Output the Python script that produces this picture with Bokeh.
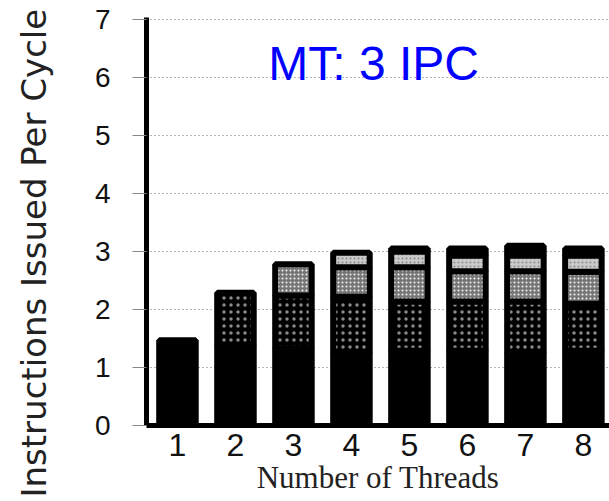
import numpy as np
from bokeh.plotting import figure
from bokeh.layouts import row
from bokeh.models import ColumnDataSource, FixedTicker, Label, Range1d, Title
from bokeh.embed import file_html
from bokeh.resources import INLINE

# ---------------- data ----------------
threads = [1, 2, 3, 4, 5, 6, 7, 8]
x_tick_labels = ["1", "2", "3", "4", "5", "6", "7", "8"]
y_ticks = [0, 1, 2, 3, 4, 5, 6, 7]

# IPC contribution of each stacked segment (bottom to top)
seg_thread1 = [1.47, 1.38, 1.33, 1.26, 1.29, 1.29, 1.26, 1.29]
seg_thread2 = [0.00, 0.91, 0.91, 0.96, 0.85, 0.85, 0.88, 0.81]
seg_thread3 = [0.00, 0.00, 0.54, 0.51, 0.59, 0.52, 0.52, 0.55]
seg_thread4 = [0.00, 0.00, 0.00, 0.25, 0.27, 0.27, 0.27, 0.28]
seg_others  = [0.00, 0.00, 0.00, 0.00, 0.05, 0.12, 0.17, 0.12]

y_label = "Instructions Issued Per Cycle"
x_label = "Number of Threads"
note_text = "MT: 3 IPC"

TOTAL_W, TOTAL_H = 609, 501
LEFT_W = 80

# ---------------- left strip holding the vertical axis title ----------------
pl = figure(width=LEFT_W, height=TOTAL_H, output_backend="svg", toolbar_location=None,
            x_range=Range1d(0, 1), y_range=Range1d(0, 1),
            min_border_left=0, min_border_right=0, min_border_top=17,
            min_border_bottom=76)
pl.axis.visible = False
pl.grid.visible = False
pl.outline_line_color = None
pl.add_layout(Title(text=y_label, align="left", vertical_align="top", offset=-72,
                    standoff=26, text_font="DejaVu Sans", text_font_size="34px",
                    text_font_style="normal", text_color="#222222"), "left")

# ---------------- main chart ----------------
p = figure(width=TOTAL_W - LEFT_W, height=TOTAL_H, output_backend="svg",
           toolbar_location=None,
           x_range=Range1d(0.466, 8.45), y_range=Range1d(0, 7.035),
           min_border_left=146 - LEFT_W, min_border_right=0, min_border_top=17,
           min_border_bottom=76)
p.outline_line_color = None

p.xgrid.visible = False
p.ygrid.ticker = FixedTicker(ticks=y_ticks)
p.ygrid.grid_line_color = "#6a6a6a"
p.ygrid.grid_line_dash = "1 3"
p.ygrid.grid_line_width = 1

layers = [
    (seg_thread1, dict(fill_color="black")),
    (seg_thread2, dict(fill_color="black", hatch_pattern="dot", hatch_color="#8a8a8a",
                       hatch_scale=7, hatch_weight=1)),
    (seg_thread3, dict(fill_color="#767676", hatch_pattern="dot", hatch_color="#f4f4f4",
                       hatch_scale=4, hatch_weight=1)),
    (seg_thread4, dict(fill_color="#cacaca", hatch_pattern="dot", hatch_color="#8c8c8c",
                       hatch_scale=4, hatch_weight=1)),
    (seg_others, dict(fill_color="black")),
]

bottom = np.zeros(len(threads))
for vals, style in layers:
    v = np.array(vals, dtype=float)
    mask = v > 0
    src = ColumnDataSource(dict(x=np.array(threads)[mask], bottom=bottom[mask],
                                top=(bottom + v)[mask]))
    p.vbar(x="x", bottom="bottom", top="top", width=0.63, source=src,
           line_color="black", line_width=6, **style)
    bottom = bottom + v

# axes
p.yaxis.ticker = FixedTicker(ticks=y_ticks)
p.yaxis.axis_line_width = 5
p.yaxis.axis_line_color = "black"
p.yaxis.major_tick_out = 14
p.yaxis.major_tick_in = 0
p.yaxis.minor_tick_out = 0
p.yaxis.minor_tick_in = 0
p.yaxis.major_tick_line_color = "#888888"
p.yaxis.major_label_standoff = 22
p.yaxis.major_label_text_font = "Liberation Sans"
p.yaxis.major_label_text_font_size = "28px"
p.yaxis.major_label_text_color = "#111111"

p.xaxis.ticker = FixedTicker(ticks=threads)
p.xaxis.major_label_overrides = {t: lab for t, lab in zip(threads, x_tick_labels)}
p.xaxis.axis_line_width = 5
p.xaxis.axis_line_color = "black"
p.xaxis.major_tick_out = 0
p.xaxis.major_tick_in = 0
p.xaxis.minor_tick_out = 0
p.xaxis.minor_tick_in = 0
p.xaxis.major_label_standoff = 8
p.xaxis.major_label_text_font = "Liberation Sans"
p.xaxis.major_label_text_font_size = "32px"
p.xaxis.major_label_text_color = "#111111"
p.xaxis.axis_label = x_label
p.xaxis.axis_label_standoff = 1
p.xaxis.axis_label_text_font = "Liberation Serif"
p.xaxis.axis_label_text_font_size = "31px"
p.xaxis.axis_label_text_font_style = "normal"
p.xaxis.axis_label_text_color = "#222222"

p.add_layout(Label(x=2.565, y=6.25, text=note_text, text_align="left",
                   text_baseline="alphabetic", text_font="Liberation Sans",
                   text_font_size="48px", text_color="#0000ff"))

layout = row(pl, p, spacing=0)
open("out.html", "w").write(file_html(layout, INLINE))
